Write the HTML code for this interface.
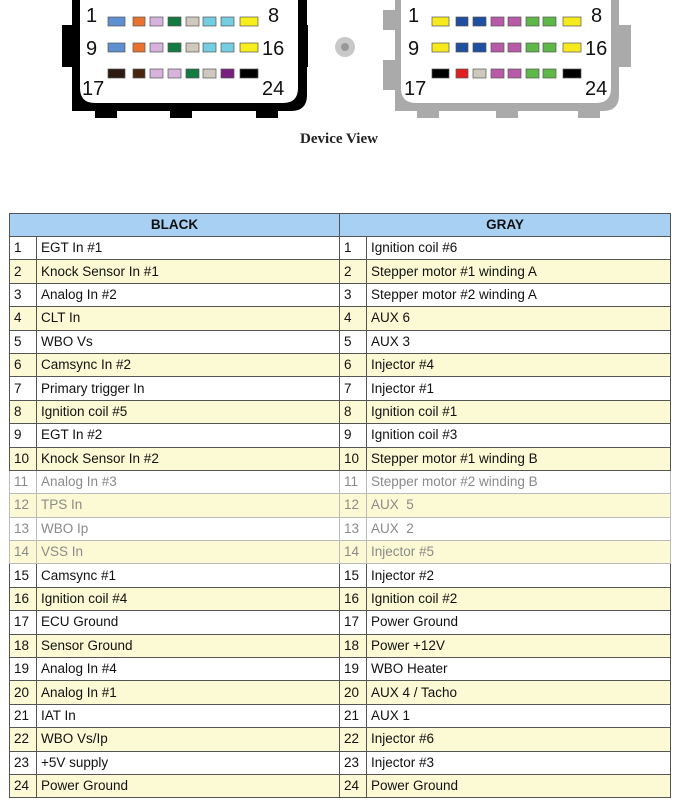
<!DOCTYPE html>
<html><head><meta charset="utf-8"><style>
body{margin:0;width:683px;height:800px;background:#fff;position:relative;overflow:hidden;font-family:"Liberation Sans",sans-serif}
svg{position:absolute;left:0;top:0}
table{position:absolute;left:9px;top:213px;width:662px;border-collapse:collapse;font-size:13.5px;color:#111}
td{border:1px solid #555;padding:0 0 0 4px;height:22.4px;line-height:20px;white-space:nowrap}
tr.h td{background:#a8d0f2;text-align:center;font-weight:bold;height:22px;padding:0}
tr.y td{background:#fcfad4}
tr.f td{color:#8a8a8a;border-color:#bbb}
td.n{width:22px}
</style></head><body>
<svg width="683" height="200" viewBox="0 0 683 200">
 <!-- black connector -->
 <rect x="62" y="25" width="14" height="42" fill="#000"/>
 <rect x="170" y="105" width="22" height="13" fill="#000"/>
 <rect x="95" y="105" width="22" height="13" fill="#000"/>
 <rect x="256" y="105" width="22" height="13" fill="#000"/>
 <path d="M72 0 H307 V95 Q307 111 291 111 H72 Z" fill="#000"/>
 <rect x="298" y="25" width="10" height="42" fill="#000"/>
 <path d="M80 0 H298 V88 Q298 103 283 103 H95 Q80 103 80 88 Z" fill="#fff"/>
 <!-- gray connector -->
 <rect x="383" y="10" width="12" height="20" fill="#aaa"/>
 <rect x="383" y="60" width="12" height="30" fill="#aaa"/>
 <path d="M395 0 H619 V95 Q619 111 603 111 H395 Z" fill="#aaa"/>
 <rect x="617" y="25" width="14" height="42" fill="#aaa"/>
 <rect x="417" y="105" width="22" height="13" fill="#aaa"/>
 <rect x="496" y="105" width="22" height="13" fill="#aaa"/>
 <rect x="578" y="105" width="22" height="13" fill="#aaa"/>
 <path d="M401 0 H611 V88 Q611 103 596 103 H416 Q401 103 401 88 Z" fill="#fff"/>
 <circle cx="345" cy="47" r="10" fill="#c8c8c8"/>
 <circle cx="345" cy="47" r="4" fill="#999"/>
 <g font-family="Liberation Sans" font-size="20" fill="#111">
  <text x="86" y="22">1</text><text x="268" y="22">8</text>
  <text x="86" y="55">9</text><text x="262" y="55">16</text>
  <text x="82" y="95">17</text><text x="262" y="95">24</text>
  <text x="408" y="22">1</text><text x="591" y="22">8</text>
  <text x="408" y="55">9</text><text x="585" y="55">16</text>
  <text x="404" y="95">17</text><text x="585" y="95">24</text>
 </g>
 <g stroke="#555" stroke-width="0.7">
  <!-- black rows -->
  <rect x="108" y="17" width="17" height="9" fill="#5e8fd0"/><rect x="133" y="17" width="12" height="9" fill="#e8722e"/><rect x="150" y="17" width="13" height="9" fill="#d6b2dc"/><rect x="168" y="17" width="13" height="9" fill="#137a42"/><rect x="186" y="17" width="13" height="9" fill="#cfc9bd"/><rect x="203" y="17" width="13" height="9" fill="#74cde0"/><rect x="221" y="17" width="13" height="9" fill="#74cde0"/><rect x="240" y="17" width="18" height="9" fill="#f7ef1c"/>
  <rect x="108" y="43" width="17" height="9" fill="#5e8fd0"/><rect x="133" y="43" width="12" height="9" fill="#e8722e"/><rect x="150" y="43" width="13" height="9" fill="#d6b2dc"/><rect x="168" y="43" width="13" height="9" fill="#137a42"/><rect x="186" y="43" width="13" height="9" fill="#cfc9bd"/><rect x="203" y="43" width="13" height="9" fill="#74cde0"/><rect x="221" y="43" width="13" height="9" fill="#74cde0"/><rect x="240" y="43" width="18" height="9" fill="#f7ef1c"/>
  <rect x="108" y="69" width="17" height="9" fill="#2e1a10"/><rect x="133" y="69" width="12" height="9" fill="#4a2410"/><rect x="150" y="69" width="13" height="9" fill="#d6b2dc"/><rect x="168" y="69" width="13" height="9" fill="#d6b2dc"/><rect x="186" y="69" width="13" height="9" fill="#137a42"/><rect x="203" y="69" width="13" height="9" fill="#cfc9bd"/><rect x="221" y="69" width="13" height="9" fill="#7a1f80"/><rect x="240" y="69" width="18" height="9" fill="#000"/>
  <!-- gray rows -->
  <rect x="432" y="17" width="17" height="9" fill="#f7ea1c"/><rect x="456" y="17" width="12" height="9" fill="#1f4fa0"/><rect x="473" y="17" width="13" height="9" fill="#1f4fa0"/><rect x="491" y="17" width="13" height="9" fill="#b85aa8"/><rect x="508" y="17" width="13" height="9" fill="#b85aa8"/><rect x="526" y="17" width="13" height="9" fill="#5db848"/><rect x="543" y="17" width="13" height="9" fill="#5db848"/><rect x="563" y="17" width="18" height="9" fill="#f7ea1c"/>
  <rect x="432" y="43" width="17" height="9" fill="#f7ea1c"/><rect x="456" y="43" width="12" height="9" fill="#1f4fa0"/><rect x="473" y="43" width="13" height="9" fill="#1f4fa0"/><rect x="491" y="43" width="13" height="9" fill="#b85aa8"/><rect x="508" y="43" width="13" height="9" fill="#b85aa8"/><rect x="526" y="43" width="13" height="9" fill="#5db848"/><rect x="543" y="43" width="13" height="9" fill="#5db848"/><rect x="563" y="43" width="18" height="9" fill="#f7ea1c"/>
  <rect x="432" y="69" width="17" height="9" fill="#000"/><rect x="456" y="69" width="12" height="9" fill="#e02020"/><rect x="473" y="69" width="13" height="9" fill="#cfc9bd"/><rect x="491" y="69" width="13" height="9" fill="#b85aa8"/><rect x="508" y="69" width="13" height="9" fill="#b85aa8"/><rect x="526" y="69" width="13" height="9" fill="#5db848"/><rect x="543" y="69" width="13" height="9" fill="#5db848"/><rect x="563" y="69" width="18" height="9" fill="#000"/>
 </g>
 <text x="339" y="143" text-anchor="middle" font-family="Liberation Serif" font-weight="bold" font-size="15" fill="#222">Device View</text>
</svg>
<table>
<tr class="h"><td colspan="2" style="width:329px">BLACK</td><td colspan="2">GRAY</td></tr>
<tr><td class="n">1</td><td style="width:298px">EGT In #1</td><td class="n">1</td><td>Ignition coil #6</td></tr>
<tr class="y"><td class="n">2</td><td>Knock Sensor In #1</td><td class="n">2</td><td>Stepper motor #1 winding A</td></tr>
<tr><td class="n">3</td><td>Analog In #2</td><td class="n">3</td><td>Stepper motor #2 winding A</td></tr>
<tr class="y"><td class="n">4</td><td>CLT In</td><td class="n">4</td><td>AUX 6</td></tr>
<tr><td class="n">5</td><td>WBO Vs</td><td class="n">5</td><td>AUX 3</td></tr>
<tr class="y"><td class="n">6</td><td>Camsync In #2</td><td class="n">6</td><td>Injector #4</td></tr>
<tr><td class="n">7</td><td>Primary trigger In</td><td class="n">7</td><td>Injector #1</td></tr>
<tr class="y"><td class="n">8</td><td>Ignition coil #5</td><td class="n">8</td><td>Ignition coil #1</td></tr>
<tr><td class="n">9</td><td>EGT In #2</td><td class="n">9</td><td>Ignition coil #3</td></tr>
<tr class="y"><td class="n">10</td><td>Knock Sensor In #2</td><td class="n">10</td><td>Stepper motor #1 winding B</td></tr>
<tr class="f"><td class="n">11</td><td>Analog In #3</td><td class="n">11</td><td>Stepper motor #2 winding B</td></tr>
<tr class="y f"><td class="n">12</td><td>TPS In</td><td class="n">12</td><td>AUX&nbsp; 5</td></tr>
<tr class="f"><td class="n">13</td><td>WBO Ip</td><td class="n">13</td><td>AUX&nbsp; 2</td></tr>
<tr class="y f"><td class="n">14</td><td>VSS In</td><td class="n">14</td><td>Injector #5</td></tr>
<tr><td class="n">15</td><td>Camsync #1</td><td class="n">15</td><td>Injector #2</td></tr>
<tr class="y"><td class="n">16</td><td>Ignition coil #4</td><td class="n">16</td><td>Ignition coil #2</td></tr>
<tr><td class="n">17</td><td>ECU Ground</td><td class="n">17</td><td>Power Ground</td></tr>
<tr class="y"><td class="n">18</td><td>Sensor Ground</td><td class="n">18</td><td>Power +12V</td></tr>
<tr><td class="n">19</td><td>Analog In #4</td><td class="n">19</td><td>WBO Heater</td></tr>
<tr class="y"><td class="n">20</td><td>Analog In #1</td><td class="n">20</td><td>AUX 4 / Tacho</td></tr>
<tr><td class="n">21</td><td>IAT In</td><td class="n">21</td><td>AUX 1</td></tr>
<tr class="y"><td class="n">22</td><td>WBO Vs/Ip</td><td class="n">22</td><td>Injector #6</td></tr>
<tr><td class="n">23</td><td>+5V supply</td><td class="n">23</td><td>Injector #3</td></tr>
<tr class="y"><td class="n">24</td><td>Power Ground</td><td class="n">24</td><td>Power Ground</td></tr>
</table>
</body></html>
